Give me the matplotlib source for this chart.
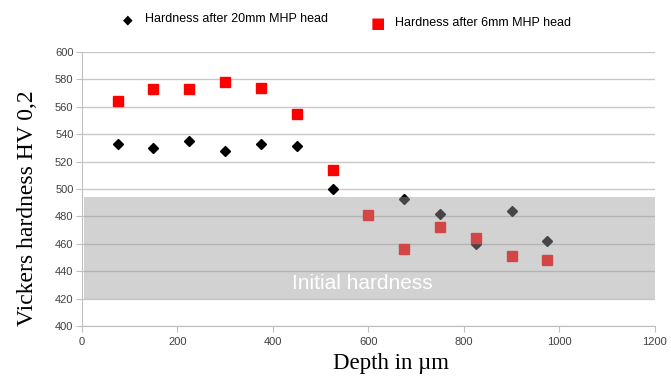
import matplotlib.pyplot as plt

depth_20 = [75, 150, 225, 300, 375, 450, 525, 675, 750, 825, 900, 975]
hv_20 = [533, 530, 535, 528, 533, 531, 500, 493, 482, 460, 484, 462]

depth_6 = [75, 150, 225, 300, 375, 450, 525, 600, 675, 750, 825, 900, 975]
hv_6 = [564, 573, 573, 578, 574, 555, 514, 481, 456, 472, 464, 451, 448]

initial_lo, initial_hi = 420, 494

fig = plt.figure(figsize=(6.71, 3.79), dpi=100)
ax = fig.add_axes([0.122, 0.140, 0.854, 0.723])

ax.plot(depth_20, hv_20, linestyle="none", marker="D", markersize=5.5,
        color="black", zorder=3)
ax.plot(depth_6, hv_6, linestyle="none", marker="s", markersize=7.5,
        color="#ff0000", zorder=3)

# grey band drawn over the points, semi transparent
ax.axhspan(initial_lo, initial_hi, xmin=0.004, xmax=1.0, color="#9d9d9d",
           alpha=0.45, lw=0, zorder=4)
ax.text(588, 431, "Initial hardness", color="white",
        fontsize=15, family="Liberation Sans", ha="center", va="center",
        zorder=5)

ax.set_xlim(0, 1200)
ax.set_ylim(400, 600)
ax.set_xticks(range(0, 1201, 200))
ax.set_yticks(range(400, 601, 20))
ax.grid(axis="y", color="#c8c8c8", lw=1)
ax.set_axisbelow(True)
for s in ["top", "right"]:
    ax.spines[s].set_visible(False)
for s in ["left", "bottom"]:
    ax.spines[s].set_color("#bfbfbf")
ax.tick_params(axis="y", length=4, color="#bfbfbf", labelsize=8,
               labelcolor="#404040", pad=2)
ax.tick_params(axis="x", length=4, color="#bfbfbf", labelsize=8,
               labelcolor="#404040", pad=4)
for lab in ax.get_xticklabels() + ax.get_yticklabels():
    lab.set_family("Liberation Sans")

ax.set_xlabel("Depth in µm", family="Liberation Serif", fontsize=16.5)
ax.xaxis.set_label_coords(0.54, -0.10, transform=ax.transAxes)
ax.xaxis.label.set_va("top")
ax.set_ylabel("Vickers hardness HV 0,2", family="Liberation Serif",
              fontsize=17)
ax.yaxis.set_label_coords(-0.094, 0.43, transform=ax.transAxes)
ax.yaxis.label.set_va("center")

# legend above the plot
fig.text(128 / 671, 1 - 20 / 379, "\u25C6", fontsize=9, ha="center",
         va="center", color="black")
fig.text(145 / 671, 1 - 19 / 379, "Hardness after 20mm MHP head",
         fontsize=9, family="Liberation Sans", va="center")
fig.text(378 / 671, 1 - 23 / 379, "\u25A0", fontsize=11, ha="center",
         va="center", color="#ff0000")
fig.text(395 / 671, 1 - 23 / 379, "Hardness after 6mm MHP head",
         fontsize=9, family="Liberation Sans", va="center")

fig.savefig("out.png", dpi=100)
